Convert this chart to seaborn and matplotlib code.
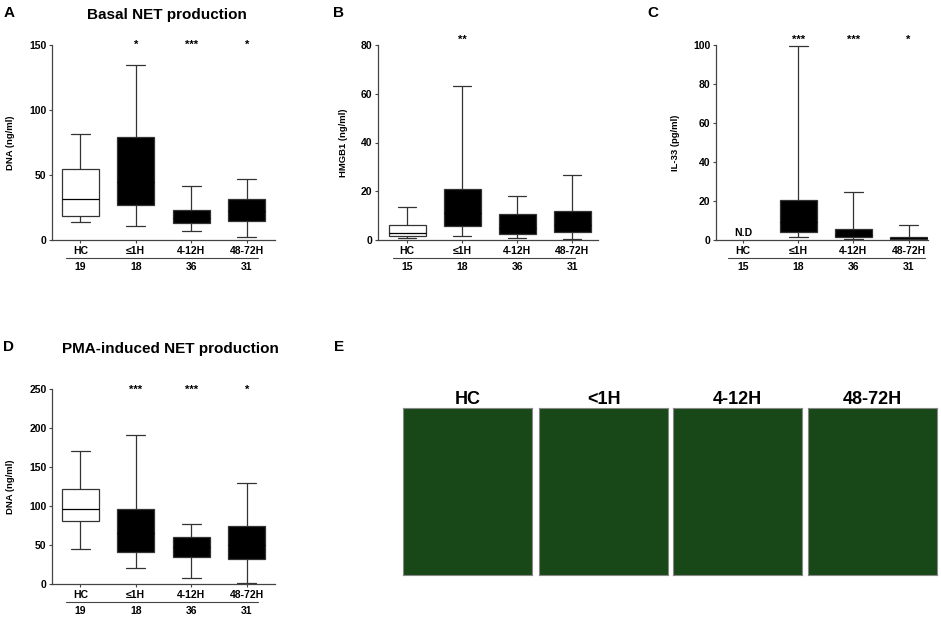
import pandas as pd
import seaborn as sns
import matplotlib
matplotlib.use('Agg')
import matplotlib.pyplot as plt
from matplotlib.transforms import blended_transform_factory

# 分组和样本数
groups = ["HC", "≤1H", "4-12H", "48-72H"]
n_dna = [19, 18, 36, 31]
n_hmgb1 = [15, 18, 36, 31]

# 每组: 最小值, Q1, 中位数, Q3, 最大值
basal_dna = [[13.8, 18.7, 31.8, 54.6, 81.8],
             [10.8, 26.7, 45.0, 79.0, 134.9],
             [6.9, 13.1, 17.0, 22.8, 41.8],
             [2.6, 14.6, 22.0, 31.8, 46.9]]
hmgb1 = [[0.8, 1.8, 2.7, 6.0, 13.7],
         [1.6, 5.7, 11.0, 20.8, 63.3],
         [1.0, 2.3, 5.0, 10.5, 18.1],
         [0.4, 3.1, 6.0, 12.0, 26.5]]
il33 = [None,  # HC: N.D
        [1.5, 4.3, 9.0, 20.3, 99.7],
        [0.3, 1.4, 2.5, 5.5, 24.6],
        [0.1, 0.3, 0.8, 1.5, 7.7]]
pma_dna = [[45.3, 80.8, 96.2, 121.8, 170.5],
           [20.9, 41.0, 65.0, 96.6, 191.0],
           [7.3, 34.2, 47.0, 60.7, 76.9],
           [0.9, 32.0, 50.0, 73.9, 129.9]]

# 显著性标记
basal_sig = ["", "*", "***", "*"]
hmgb1_sig = ["", "**", "", ""]
il33_sig = ["", "***", "***", "*"]
pma_sig = ["", "***", "***", "*"]

image_titles = ["HC", "<1H", "4-12H", "48-72H"]

box_colors = {"HC": "white", "≤1H": "black", "4-12H": "black", "48-72H": "black"}

sns.set_style('ticks')
plt.rcParams['font.family'] = ['Liberation Sans', 'DejaVu Sans']
plt.rcParams['font.weight'] = 'bold'
for k in ['text.color', 'axes.labelcolor', 'xtick.labelcolor', 'ytick.labelcolor']:
    plt.rcParams[k] = 'black'

W, H = 941, 619
fig = plt.figure(figsize=(W / 100, H / 100), dpi=100)


def px_rect(left, top, right, bottom):
    return [left / W, 1 - bottom / H, (right - left) / W, (bottom - top) / H]


def fig_text(x, y, s, size, ha='center'):
    fig.text(x / W, 1 - y / H, s, ha=ha, va='center', fontsize=size, fontweight='bold')


def box_panel(rect, summaries, ns, sig, sig_dy, ylabel, ymax, ystep, xlim, label_dx, line_x):
    ax = fig.add_axes(px_rect(*rect))
    rows = []
    for g, s in zip(groups, summaries):
        if s is None:
            continue
        for v in s:
            rows.append((g, v))
    df = pd.DataFrame(rows, columns=['group', 'value'])
    sns.boxplot(data=df, x='group', y='value', order=groups, hue='group',
                hue_order=groups, palette=box_colors, dodge=False, saturation=1,
                whis=(0, 100), width=0.67, linecolor='#333333', linewidth=0.9,
                medianprops={'color': 'black'}, legend=False, ax=ax)
    ax.set_ylim(0, ymax)
    ax.set_xlim(*xlim)
    ax.set_yticks(range(0, ymax + 1, ystep))
    sns.despine(ax=ax)
    for sp in ['left', 'bottom']:
        ax.spines[sp].set_color('#444444')
        ax.spines[sp].set_linewidth(0.9)
    ax.tick_params(axis='both', length=2.5, width=0.8, color='#444444', pad=1.5, labelsize=7.5)
    ax.set_xlabel('')
    ax.set_ylabel(ylabel, fontsize=6.8, fontweight='bold')
    ax.yaxis.set_label_coords(label_dx, 0.5)

    hpx = rect[3] - rect[1]
    trans = blended_transform_factory(ax.transData, ax.transAxes)
    # 显著性星号
    for i, s in enumerate(sig):
        if s:
            ax.text(i, 1.0 + sig_dy / hpx, s, transform=trans, ha='center', va='center',
                    fontsize=8, fontweight='bold', clip_on=False)
    # 分隔线和样本数
    ax.plot(line_x, [-18 / hpx, -18 / hpx], transform=trans, color='#444444',
            lw=0.8, clip_on=False)
    for i, n in enumerate(ns):
        ax.text(i, -27 / hpx, str(n), transform=trans, ha='center', va='center',
                fontsize=7.5, fontweight='bold')
    return ax


# A
box_panel((52, 45, 275, 240), basal_dna, n_dna, basal_sig, 0, 'DNA (ng/ml)',
          150, 50, (-0.51, 3.51), -37 / 223, (-0.25, 3.2))
fig_text(4, 13, 'A', 11, ha='left')
fig_text(167, 15, 'Basal NET production', 11)

# B
box_panel((378, 45, 598, 240), hmgb1, n_hmgb1, hmgb1_sig, 5, 'HMGB1 (ng/ml)',
          80, 20, (-0.53, 3.47), -30 / 220, (-0.25, 3.05))
fig_text(333, 13, 'B', 11, ha='left')

# C
ax_c = box_panel((716, 45, 928, 240), il33, n_hmgb1, il33_sig, 5, 'IL-33 (pg/ml)',
                 100, 20, (-0.49, 3.35), -36 / 212, (-0.27, 3.29))
ax_c.text(0, 0.8, 'N.D', ha='center', va='bottom', fontsize=7.5, fontweight='bold')
fig_text(647, 13, 'C', 11, ha='left')

# D
box_panel((52, 389, 275, 584), pma_dna, n_dna, pma_sig, -1, 'DNA (ng/ml)',
          250, 50, (-0.51, 3.51), -37 / 223, (-0.25, 3.2))
fig_text(3, 347, 'D', 11, ha='left')
fig_text(170, 349, 'PMA-induced NET production', 11)

# E: 荧光图像 (无法复现, 用暗绿色面板代替)
fig_text(334, 347, 'E', 11, ha='left')
for left, title in zip([403, 539, 673, 808], image_titles):
    ax = fig.add_axes(px_rect(left, 408, left + 129, 575))
    ax.set_facecolor('#184818')
    ax.set_xticks([])
    ax.set_yticks([])
    for sp in ax.spines.values():
        sp.set_color('#888888')
        sp.set_linewidth(0.8)
    ax.set_title(title, fontsize=13, fontweight='bold', pad=2)

fig.savefig('out.png', dpi=100)
